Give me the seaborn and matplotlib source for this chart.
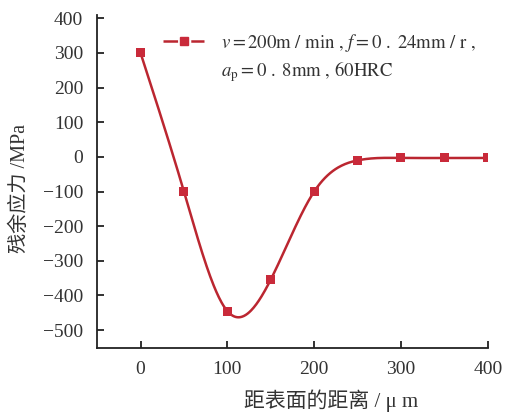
import numpy as np
import pandas as pd
import matplotlib
matplotlib.use("Agg")
import matplotlib.pyplot as plt
from matplotlib.lines import Line2D
import seaborn as sns

# data
depth = [0, 50, 100, 150, 200, 250, 300, 350, 400]
stress = [300, -100, -445, -354, -100, -10, -3, -3, -3]
x_ticks = [0, 100, 200, 300, 400]
y_ticks = [-500, -400, -300, -200, -100, 0, 100, 200, 300, 400]

legend_line1 = r"$v=\mathrm{200m\ /\ min\ ,}\,f=\mathrm{0\ .\ 24mm\ /\ r\ ,}$"
legend_line2 = r"$a_\mathrm{p}=\mathrm{0\ .\ 8mm\ ,\,60HRC}$"

line_color = "#bb2630"
marker_color = "#c92a3a"
ink = "#333333"

sns.set_style("ticks")
plt.rcParams["font.family"] = ["Liberation Serif", "Noto Sans CJK SC", "DejaVu Sans"]
plt.rcParams["mathtext.fontset"] = "stix"
plt.rcParams["lines.scale_dashes"] = False


def natural_spline(x, y, n=400):
    # smooth line through the measured points (drawing only)
    x = np.asarray(x, float)
    y = np.asarray(y, float)
    k = len(x)
    h = np.diff(x)
    A = np.zeros((k, k))
    b = np.zeros(k)
    A[0, 0] = A[-1, -1] = 1
    for i in range(1, k - 1):
        A[i, i - 1] = h[i - 1]
        A[i, i] = 2 * (h[i - 1] + h[i])
        A[i, i + 1] = h[i]
        b[i] = 6 * ((y[i + 1] - y[i]) / h[i] - (y[i] - y[i - 1]) / h[i - 1])
    M = np.linalg.solve(A, b)
    xs = np.linspace(x[0], x[-1], n)
    idx = np.clip(np.searchsorted(x, xs) - 1, 0, k - 2)
    x0, x1 = x[idx], x[idx + 1]
    hh = x1 - x0
    ys = (M[idx] * (x1 - xs) ** 3 / (6 * hh) + M[idx + 1] * (xs - x0) ** 3 / (6 * hh)
          + (y[idx] / hh - M[idx] * hh / 6) * (x1 - xs)
          + (y[idx + 1] / hh - M[idx + 1] * hh / 6) * (xs - x0))
    return xs, ys


df = pd.DataFrame({"depth": depth, "stress": stress})
sx, sy = natural_spline(depth, stress)
smooth = pd.DataFrame({"depth": sx, "stress": sy})

fig = plt.figure(figsize=(5.06, 4.13), dpi=100)
ax = fig.add_axes([0.192, 0.157, 0.772, 0.807])

sns.lineplot(data=smooth, x="depth", y="stress", ax=ax, color=line_color, lw=1.8)
sns.scatterplot(data=df, x="depth", y="stress", ax=ax, color=marker_color,
                marker="s", s=42, edgecolor="none", zorder=3)

ax.set_xlim(-50, 400)
ax.set_ylim(-552, 410)
ax.set_xticks(x_ticks)
ax.set_yticks(y_ticks)
ax.tick_params(direction="in", length=5, width=1.3, labelsize=14, colors="#222222",
               labelcolor=ink)
ax.tick_params(axis="y", pad=10)
ax.tick_params(axis="x", pad=9)
for s in ["top", "right"]:
    ax.spines[s].set_visible(False)
for s in ["left", "bottom"]:
    ax.spines[s].set_linewidth(1.3)
    ax.spines[s].set_color("#222222")

ax.set_xlabel("距表面的距离 / μ m", fontsize=15, color=ink)
ax.set_ylabel("残余应力 /MPa", fontsize=14.5, color=ink)
ax.xaxis.set_label_coords(0.60, -0.125)
ax.yaxis.set_label_coords(-0.172, 0.48)

dash_part = Line2D([], [], color=line_color, lw=1.8, dashes=(10.5, 9.5, 10.5, 60))
mark_part = Line2D([], [], color=marker_color, lw=0, marker="s", markersize=6,
                   markeredgecolor=marker_color)
blank = Line2D([], [], color="none", lw=0)
ax.legend([(dash_part, mark_part), blank], [legend_line1, legend_line2],
          loc="upper left", bbox_to_anchor=(0.169, 0.95), borderpad=0,
          borderaxespad=0, frameon=False, fontsize=13.5, handlelength=2.2,
          handletextpad=0.9, labelspacing=0.3, labelcolor=ink)

fig.savefig("out.png", dpi=100)
